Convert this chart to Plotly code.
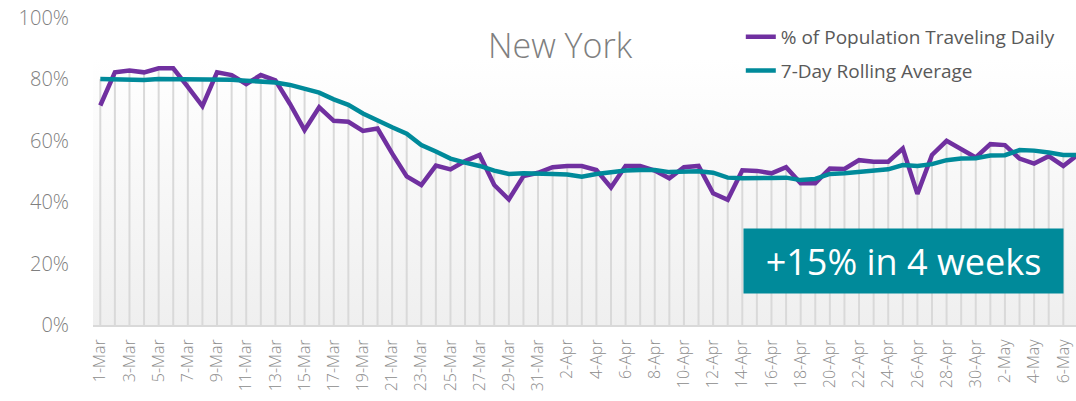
import pandas as pd
import plotly.graph_objects as go

# ---- data ----
dates = [d.strftime("%-d-%b") for d in pd.date_range("2020-03-01", "2020-05-07")]

pct_traveling = [
    71.5, 82.3, 82.9, 82.3, 83.6, 83.6, 77.6, 71.3, 82.3, 81.4,
    78.5, 81.4, 79.7, 72.0, 63.5, 70.9, 66.5, 66.2, 63.2, 64.0,
    55.9, 48.4, 45.6, 51.9, 50.7, 53.4, 55.4, 45.6, 40.9, 48.5,
    49.6, 51.4, 51.8, 51.8, 50.5, 44.8, 51.8, 51.8, 50.3, 47.8,
    51.4, 51.8, 42.9, 40.8, 50.4, 50.2, 49.4, 51.4, 46.2, 46.2,
    51.0, 50.8, 53.7, 53.2, 53.2, 57.5, 42.7, 55.4, 60.0, 57.3,
    54.6, 58.9, 58.6, 54.2, 52.6, 55.0, 51.8, 55.5,
]
rolling_avg = [
    80.1, 79.9, 79.9, 79.8, 80.1, 80.1, 80.1, 80.1, 80.1, 79.9,
    79.6, 79.4, 79.0, 78.2, 77.1, 75.7, 73.5, 71.7, 68.9, 66.5,
    64.4, 62.3, 58.6, 56.5, 54.2, 52.9, 51.8, 50.3, 49.2, 49.4,
    49.4, 49.2, 49.0, 48.3, 49.2, 49.8, 50.3, 50.5, 50.5, 49.8,
    49.8, 50.1, 49.6, 48.0, 47.8, 47.7, 47.9, 48.0, 47.2, 47.6,
    49.2, 49.4, 49.9, 50.3, 50.7, 52.1, 51.8, 52.4, 53.7, 54.2,
    54.3, 55.2, 55.3, 57.0, 56.8, 56.2, 55.4, 55.4,
]
y_ticks = [0, 20, 40, 60, 80, 100]
y_ticklabels = ["0%", "20%", "40%", "60%", "80%", "100%"]
chart_title = "New York"
callout = "+15% in 4 weeks"
band_top = 87  # top of the shaded background band (%)

PURPLE = "#7030A0"
TEAL = "#008A9A"
GRID = "#d9d9d9"
TXT = "#7f7f7f"
FONT = "Open Sans"

xs = list(range(len(dates)))

fig = go.Figure()

# shaded gradient band behind the data
fig.add_trace(go.Scatter(
    x=[-0.5, len(dates)], y=[band_top, band_top], mode="lines",
    line=dict(width=0), fill="tozeroy",
    fillgradient=dict(type="vertical",
                      colorscale=[[0, "#efefef"], [1, "#ffffff"]]),
    showlegend=False, hoverinfo="skip",
))

# vertical drop lines up to the higher of the two series
dx, dy = [], []
for i, (a, b) in enumerate(zip(pct_traveling, rolling_avg)):
    dx += [i, i, None]
    dy += [0, max(a, b), None]
fig.add_trace(go.Scatter(
    x=dx, y=dy, mode="lines", line=dict(color=GRID, width=2),
    showlegend=False, hoverinfo="skip",
))

fig.add_trace(go.Scatter(
    x=xs, y=pct_traveling, mode="lines", name="% of Population Traveling Daily",
    line=dict(color=PURPLE, width=4.5), legendgroup="a",
))
fig.add_trace(go.Scatter(
    x=xs, y=rolling_avg, mode="lines", name="7-Day Rolling Average",
    line=dict(color=TEAL, width=4.5), legendgroup="b",
))

fig.update_layout(
    width=1076, height=401,
    margin=dict(l=93, r=0, t=18, b=76, autoexpand=False),
    paper_bgcolor="white", plot_bgcolor="white",
    font=dict(family=FONT, color=TXT),
    showlegend=True,
    legend=dict(
        x=0.659, y=1.0, xanchor="left", yanchor="top",
        font=dict(size=19, color="#595959", family=FONT),
        bgcolor="rgba(0,0,0,0)", tracegroupgap=6,
        itemwidth=30,
    ),
    xaxis=dict(
        range=[-0.5, 66.87], automargin=False,
        tickmode="array", tickvals=xs[::2], ticktext=dates[::2],
        tickangle=-90, tickfont=dict(size=16, color="#8c8c8c", family=FONT, weight=300),
        ticks="outside", ticklen=6, tickcolor="rgba(0,0,0,0)",
        showgrid=False, zeroline=False,
        showline=True, linecolor=GRID, linewidth=2,
    ),
    yaxis=dict(
        range=[0, 100], automargin=False,
        tickmode="array", tickvals=y_ticks, ticktext=y_ticklabels,
        tickfont=dict(size=20, color=TXT, family=FONT, weight=300),
        ticks="outside", ticklen=19, tickcolor="rgba(0,0,0,0)",
        showgrid=False, zeroline=False, showline=False,
    ),
    annotations=[
        dict(text=chart_title, xref="paper", yref="paper", x=0.476, y=0.912,
             xanchor="center", yanchor="middle", showarrow=False,
             font=dict(size=34, color=TXT, family=FONT, weight=300)),
        dict(text=callout, xref="paper", yref="paper", x=0.8245, y=0.21,
             xanchor="center", yanchor="middle", showarrow=False,
             width=319, height=64, bgcolor=TEAL, borderpad=0,
             font=dict(size=36, color="white", family=FONT)),
    ],
)

fig.write_html("out.html", config={"displayModeBar": False})

# remove the browser's default page margin so the figure fills the window
with open("out.html", encoding="utf-8") as f:
    html = f.read()
html = html.replace("<body>", '<body style="margin:0;padding:0;">', 1)
with open("out.html", "w", encoding="utf-8") as f:
    f.write(html)
